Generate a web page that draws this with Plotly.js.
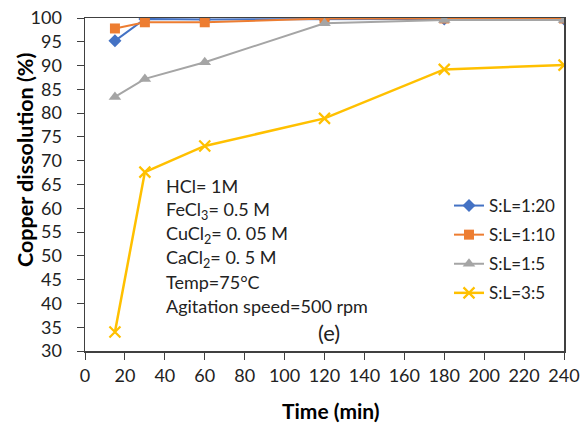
<!DOCTYPE html>
<html><head><meta charset="utf-8">
<script src="https://cdn.plot.ly/plotly-3.0.1.min.js"></script>
<style>body{margin:0;padding:0;background:#fff}#chart{width:580px;height:423px}</style>
</head><body><div id="chart"></div>
<script>
const time = [15, 30, 60, 120, 180, 240];
const sl_1_20 = [95.2, 99.8, 99.7, 99.8, 99.8, 99.8];
const sl_1_10 = [97.8, 99.1, 99.1, 99.9, 99.9, 99.9];
const sl_1_5 = [83.4, 87.2, 90.7, 98.9, 99.6, 99.6];
const sl_3_5 = [34.0, 67.6, 73.1, 78.9, 89.2, 90.1];
const seriesNames = ["S:L=1:20", "S:L=1:10", "S:L=1:5", "S:L=3:5"];
const xTicks = [0,20,40,60,80,100,120,140,160,180,200,220,240];
const yTicks = [30,35,40,45,50,55,60,65,70,75,80,85,90,95,100];
const notes = ["HCl= 1M", "FeCl<sub>3</sub>= 0.5 M", "CuCl<sub>2</sub>= 0. 05 M", "CaCl<sub>2</sub>= 0. 5 M", "Temp=75°C", "Agitation speed=500 rpm"];
const xTitle = "Time (min)";
const yTitle = "Copper dissolution (%)";

const FONT = "Lato, 'Open Sans', sans-serif";
const L = 85, R = 564, T = 18, B = 351;
const px = v => (v - L) / (R - L);
const py = v => (B - v) / (B - T);

const styles = [
  {color:"#4472C4", symbol:"diamond", size:10},
  {color:"#ED7D31", symbol:"square", size:10},
  {color:"#A5A5A5", symbol:"triangle-up", size:11},
  {color:"#FFC000", symbol:"x-thin-open", size:11}
];
const ys = [sl_1_20, sl_1_10, sl_1_5, sl_3_5];
const traces = ys.map((y,i)=>({
  x: time, y: y, name: seriesNames[i], type:"scatter", mode:"lines+markers",
  legendgroup: "g"+i,
  line:{color:styles[i].color, width: i===3 ? 2.5 : 2},
  marker:{color:styles[i].color, symbol:styles[i].symbol, size:styles[i].size,
          line:{color:styles[i].color, width: i===3 ? 2.2 : 0}}
}));

const annotations = notes.map((t,i)=>({
  text:t, xref:"paper", yref:"paper", x:px(164), y:py(186+i*24),
  xanchor:"left", yanchor:"middle", showarrow:false,
  font:{family:FONT, size:18, color:"#222"}
}));
annotations.push({text:"(e)", xref:"paper", yref:"paper", x:px(329), y:py(332),
  xanchor:"center", yanchor:"middle", showarrow:false, font:{family:FONT, size:22, color:"#222"}});
annotations.push({text:"<b>"+xTitle+"</b>", xref:"paper", yref:"paper", x:px(331), y:py(410),
  xanchor:"center", yanchor:"middle", showarrow:false, font:{family:FONT, size:21, color:"#000"}});
annotations.push({text:"<b>"+yTitle+"</b>", xref:"paper", yref:"paper", x:px(25), y:py(160),
  xanchor:"center", yanchor:"middle", textangle:-90, showarrow:false, font:{family:FONT, size:21.5, color:"#000"}});

const layout = {
  width:580, height:423,
  margin:{l:L, r:580-R, t:T, b:423-B},
  paper_bgcolor:"#fff", plot_bgcolor:"#fff",
  font:{family:FONT, size:17, color:"#222"},
  showlegend:true,
  legend:{x:px(449), y:py(188), xanchor:"left", yanchor:"top",
          font:{family:FONT, size:17, color:"#222"}, tracegroupgap:4,
          bgcolor:"rgba(0,0,0,0)", itemwidth:30},
  xaxis:{range:[0,240], tickvals:xTicks, ticktext:xTicks.map(String),
         showgrid:false, zeroline:false, showline:true, linecolor:"#404040", linewidth:1.5,
         mirror:true, ticks:"outside", ticklen:7, tickcolor:"#404040", ticklabelstandoff:1,
         tickfont:{family:FONT, size:18, color:"#222"}},
  yaxis:{range:[30,100], tickvals:yTicks, ticktext:yTicks.map(String),
         showgrid:false, zeroline:false, showline:true, linecolor:"#404040", linewidth:1.5,
         mirror:true, ticks:"outside", ticklen:7, tickcolor:"#404040", ticklabelstandoff:11,
         tickfont:{family:FONT, size:18, color:"#222"}},
  annotations:annotations
};
Plotly.newPlot("chart", traces, layout, {displayModeBar:false, staticPlot:true});
</script></body></html>
